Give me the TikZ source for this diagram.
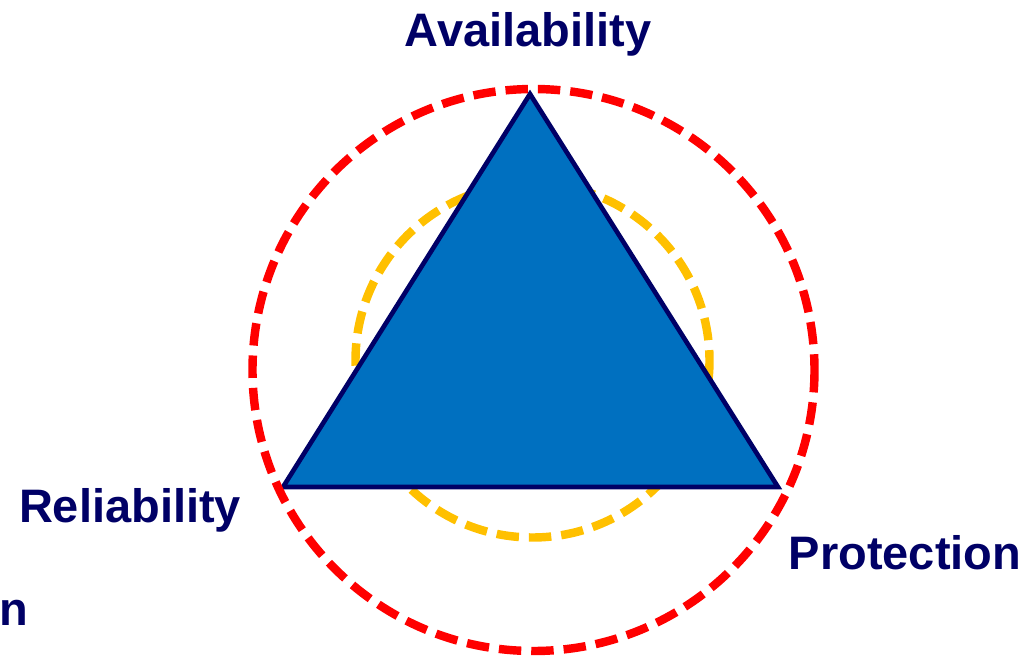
\documentclass[tikz,border=0pt]{standalone}
\usepackage{fontspec}
\setmainfont{Liberation Sans}
\definecolor{trRed}{RGB}{255, 0, 0}
\definecolor{trGold}{RGB}{255, 192, 0}
\definecolor{trBlue}{RGB}{0, 112, 192}
\definecolor{trNavy}{RGB}{0, 0, 102}
\usepackage{tikz}
\tikzset{
  ring/.style={draw=#1, line width=6pt, dash pattern=on 0.56cm off 0.25cm},
  ring/.default=trRed,
  corner/.style={font=\fontsize{33.4}{40}\selectfont\bfseries, text=trNavy, inner sep=0pt},
  tri/.style={draw=trNavy, line width=3.3pt, fill=trBlue, line join=miter},
}

\begin{document}
\begin{tikzpicture}[x=0.025cm, y=-0.025cm]
  \useasboundingbox (0,0) rectangle (1032,656);

  % Corners
  \coordinate (top) at (530, 94);
  \coordinate (left) at (283, 487);
  \coordinate (right) at (778, 487);

  % Inner ring sits behind the triangle
  \draw[ring=trGold] (532.5, 360.5) circle[radius=177];
  \draw[tri] (top) -- (left) -- (right) -- cycle;
  \draw[ring] (533.5, 370) circle[radius=281];

  % Labels
  \node[corner, anchor=base] (avail) at (528, 47) {Availability};
  \node[corner, anchor=base] (relia) at (130, 522) {Reliability};
  \node[corner, anchor=base] (prot) at (905, 569) {Protection};
  \node[corner, anchor=base west] (cut) at (-1, 625) {n};
\end{tikzpicture}
\end{document}
